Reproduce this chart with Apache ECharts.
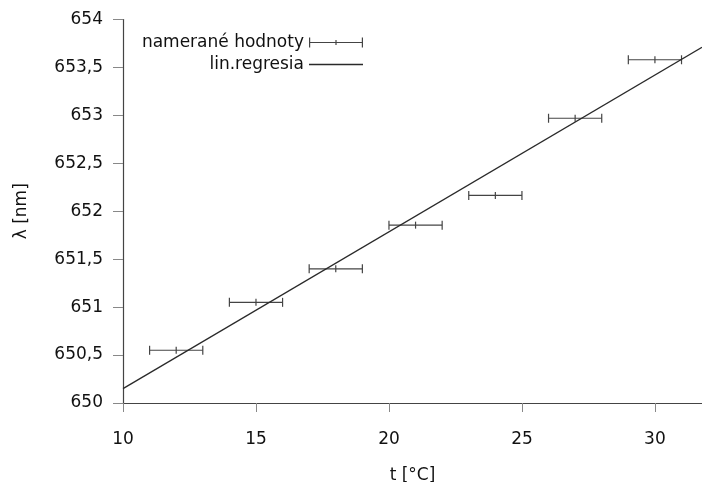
<!DOCTYPE html>
<html>
<head>
<meta charset="utf-8">
<script src="https://cdn.jsdelivr.net/npm/echarts@6/dist/echarts.min.js"></script>
<style>
  html, body { margin: 0; padding: 0; background: #fff; }
  #main { width: 702px; height: 482px; }
</style>
</head>
<body>
<div id="main"></div>
<script>
var myChart = echarts.init(document.getElementById('main'))

// namerané hodnoty: teplota [°C], vlnová dĺžka [nm], chyba teploty
var tempC = [12, 15, 18, 21, 24, 27, 30]
var lambdaNm = [650.55, 651.05, 651.40, 651.855, 652.165, 652.97, 653.58]
var tempErr = [1, 1, 1, 1, 1, 1, 1]
// lineárna regresia - koncové body odčítané z grafu
var regX = [10, 31.77]
var regY = [650.15, 653.71]

var xTicks = { min: 10, max: 31.77, step: 5 }
var yTicks = { min: 650, max: 654, step: 0.5 }

var fontName = 'DejaVu Sans'
var textColor = '#111'

var measured = []
for (let i = 0; i < tempC.length; i++) {
  measured.push([tempC[i], lambdaNm[i], tempErr[i]])
}
var regression = []
for (let i = 0; i < regX.length; i++) {
  regression.push([regX[i], regY[i]])
}

var errIcon = 'path://M0,4.4h54v1.2h-54z M0,0h1.2v10h-1.2z M52.8,0h1.2v10h-1.2z M26.4,2.5h1.2v5h-1.2z'
var lineIcon = 'path://M0,0h54v1.3h-54z'

var option = {
  animation: false,
  backgroundColor: '#fff',
  textStyle: { fontFamily: fontName },
  grid: { left: 123, right: 0, top: 19.5, bottom: 79, outerBoundsMode: 'none', containLabel: false },
  legend: {
    orient: 'vertical',
    align: 'right',
    right: 334,
    top: 29,
    itemWidth: 54,
    itemHeight: 10,
    itemGap: 5,
    textStyle: { fontFamily: fontName, fontSize: 17, color: textColor },
    data: [
      { name: 'namerané hodnoty', icon: errIcon, itemStyle: { color: '#444' } },
      { name: 'lin.regresia', icon: lineIcon, itemStyle: { color: '#2a2a2a' } },
    ],
  },
  xAxis: {
    type: 'value',
    min: xTicks.min,
    max: xTicks.max,
    interval: xTicks.step,
    name: 't [°C]',
    nameLocation: 'middle',
    nameGap: 64,
    nameTextStyle: { fontFamily: fontName, fontSize: 17, color: textColor },
    axisLine: { lineStyle: { color: '#444', width: 1.2 } },
    axisTick: { show: true, inside: false, length: 9, lineStyle: { color: '#888' } },
    axisLabel: {
      margin: 28,
      showMaxLabel: false,
      fontFamily: fontName,
      fontSize: 17,
      color: textColor,
    },
    splitLine: { show: false },
  },
  yAxis: {
    type: 'value',
    min: yTicks.min,
    max: yTicks.max,
    interval: yTicks.step,
    name: 'λ [nm]',
    nameLocation: 'middle',
    nameGap: 93,
    nameTextStyle: { fontFamily: fontName, fontSize: 17, color: textColor },
    axisLine: { show: true, lineStyle: { color: '#444', width: 1.2 } },
    axisTick: { show: true, inside: false, length: 10, lineStyle: { color: '#888' } },
    axisLabel: {
      margin: 20,
      fontFamily: fontName,
      fontSize: 17,
      color: textColor,
      formatter: function (v) {
        return String(v).replace('.', ',')
      },
    },
    splitLine: { show: false },
  },
  series: [
    {
      name: 'namerané hodnoty',
      type: 'custom',
      itemStyle: { color: '#444' },
      renderItem: function (params, api) {
        var x = api.value(0)
        var y = api.value(1)
        var e = api.value(2)
        var lo = api.coord([x - e, y])
        var mid = api.coord([x, y])
        var hi = api.coord([x + e, y])
        var style = { stroke: '#444', lineWidth: 1.2 }
        return {
          type: 'group',
          children: [
            { type: 'line', shape: { x1: lo[0], y1: lo[1], x2: hi[0], y2: hi[1] }, style: style },
            { type: 'line', shape: { x1: lo[0], y1: lo[1] - 4.5, x2: lo[0], y2: lo[1] + 4.5 }, style: style },
            { type: 'line', shape: { x1: mid[0], y1: mid[1] - 3.5, x2: mid[0], y2: mid[1] + 3.5 }, style: style },
            { type: 'line', shape: { x1: hi[0], y1: hi[1] - 4.5, x2: hi[0], y2: hi[1] + 4.5 }, style: style },
          ],
        }
      },
      data: measured,
    },
    {
      name: 'lin.regresia',
      type: 'line',
      showSymbol: false,
      lineStyle: { color: '#2a2a2a', width: 1.3 },
      itemStyle: { color: '#2a2a2a' },
      data: regression,
    },
  ],
}

myChart.setOption(option)
</script>
</body>
</html>
